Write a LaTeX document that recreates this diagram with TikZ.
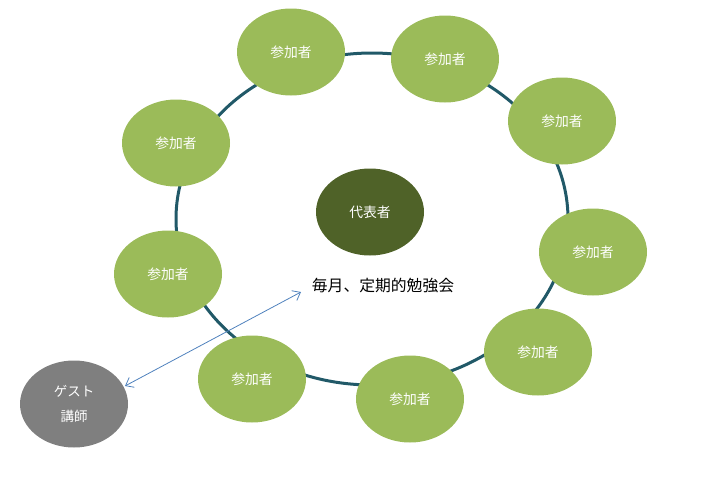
\documentclass[tikz,border=0pt]{standalone}
\usepackage{fontspec}
\newfontfamily\jp{Noto Sans CJK JP}
\usetikzlibrary{shapes.geometric,arrows.meta}
\definecolor{partgreen}{HTML}{9BBB59}
\definecolor{leadolive}{HTML}{4F6228}
\definecolor{guestgrey}{HTML}{7F7F7F}
\definecolor{ringteal}{HTML}{215968}
\definecolor{arrowblue}{HTML}{4F81BD}
\tikzset{
  member/.style={ellipse, fill=partgreen, draw=none, minimum width=108pt, minimum height=87pt, inner sep=0pt, text=white, font=\jp\fontsize{13.8}{15}\selectfont},
  leader/.style={member, fill=leadolive},
  guest/.style={member, fill=guestgrey, align=center, font=\jp\fontsize{13.5}{25}\selectfont},
  ring/.style={draw=ringteal, line width=3pt},
  link/.style={draw=arrowblue, line width=0.8pt, {Straight Barb[length=7pt,width=11pt]}-{Straight Barb[length=7pt,width=11pt]}}
}
\begin{document}
\begin{tikzpicture}[x=1pt,y=-1pt]
\useasboundingbox (0,0) rectangle (723,490);
\coordinate (ringc) at (372,219);
\draw[ring] (ringc) ellipse [x radius=196pt, y radius=166pt];
\node[member] (p1) at (291,52) {参加者};
\node[member] (p2) at (445,59) {参加者};
\node[member] (p3) at (562,121) {参加者};
\node[member] (p4) at (593,252) {参加者};
\node[member] (p5) at (538,352) {参加者};
\node[member] (p6) at (410,399) {参加者};
\node[member] (p7) at (252,379) {参加者};
\node[member] (p8) at (168,274) {参加者};
\node[member] (p9) at (176,143) {参加者};
\node[leader] (lead) at (370,212) {代表者};
\node[guest] (guest) at (74,404) {ゲスト\\講師};
\node[font=\jp\fontsize{15.8}{18}\selectfont, text=black] (study) at (383,286) {毎月、定期的勉強会};
\coordinate (arrowend) at (301,292);
\coordinate (guestend) at (125,386);
\draw[link] (guestend) -- (arrowend);
\end{tikzpicture}
\end{document}
